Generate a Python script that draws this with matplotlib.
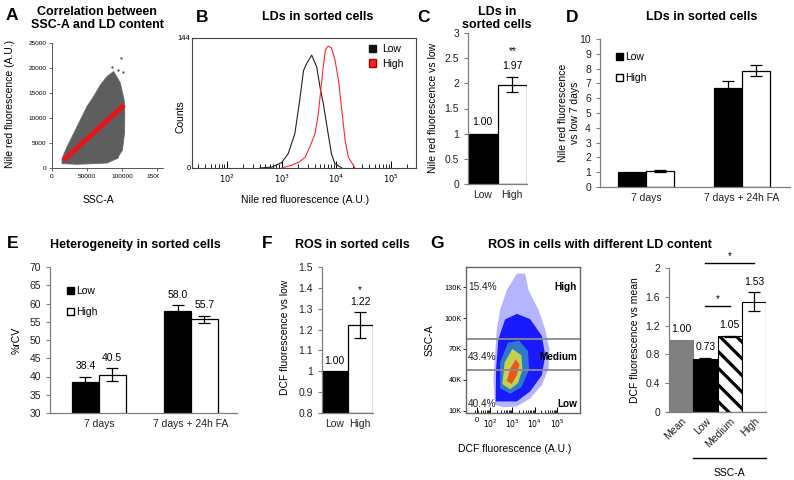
import matplotlib
matplotlib.use('Agg')
import matplotlib.pyplot as plt
import numpy as np
from matplotlib.patches import Patch, Rectangle

plt.rcParams['font.family'] = ['Liberation Sans', 'DejaVu Sans']
plt.rcParams['hatch.linewidth'] = 2.3
plt.rcParams['hatch.color'] = 'black'

# ---------------- data ----------------
# A: SSC-A vs Nile red (cloud envelope, sparse outliers, regression line)
a_cloud_ssc = [14300, 35700, 59500, 78600, 92900, 100500, 103500, 104000, 103000,
               97600, 88100, 78600, 69000, 59500, 50000, 40500, 31000, 21400, 14300]
a_cloud_nr = [870, 740, 870, 1000, 1880, 3550, 6900, 11000, 13600,
              17000, 19300, 18300, 16600, 14300, 12300, 9600, 6900, 4200, 1900]
a_out_ssc = [98600, 93800, 101400, 78600, 92900, 96500, 86000, 101000]
a_out_nr = [22000, 19600, 19300, 1500, 2200, 9000, 20200, 7500]
a_fit_ssc = [16700, 103000]
a_fit_nr = [1540, 12600]
a_xticks = [0, 50000, 100000, 150000]
a_yticks = [0, 5000, 10000, 15000, 20000, 25000]

# B: Nile red histograms of sorted cells
b_low_x = [400, 660, 1000, 1320, 1740, 2140, 2510, 2880, 3550, 4370, 5010, 5750, 7080, 8130, 9330, 12600]
b_low_counts = [0, 1, 6, 16, 38, 75, 108, 116, 125, 112, 90, 72, 38, 16, 5, 0]
b_high_x = [1000, 1510, 2140, 2690, 3310, 4070, 4680, 5750, 6310, 7080, 8130, 9440,
            10960, 12590, 14450, 16600, 21900]
b_high_counts = [0, 3, 7, 12, 24, 38, 60, 112, 131, 135, 133, 120, 97, 64, 31, 12, 0]
b_series = ['Low', 'High']

# C
c_cats = ['Low', 'High']
c_vals = [1.00, 1.97]
c_err = [0.0, 0.15]
c_sig = '**'

# D
d_cats = ['7 days', '7 days + 24h FA']
d_low = [1.0, 6.72]
d_low_err = [0.0, 0.47]
d_high = [1.09, 7.87]
d_high_err = [0.05, 0.35]

# E
e_cats = ['7 days', '7 days + 24h FA']
e_low = [38.4, 58.0]
e_low_err = [1.5, 1.5]
e_high = [40.5, 55.7]
e_high_err = [1.7, 1.0]

# F
f_cats = ['Low', 'High']
f_vals = [1.00, 1.22]
f_err = [0.0, 0.062]
f_sig = '*'

# G left: DCF (log10) vs SSC-A density regions
g_sparse_x = [2.22, 2.15, 2.22, 2.30, 2.45, 2.75, 3.20, 3.57, 3.72, 4.17, 4.47, 4.66, 4.62, 4.32, 3.79, 3.20, 2.60]
g_sparse_y = [16000, 41400, 63600, 89000, 108000, 127000, 143000, 143000, 127000, 108000,
              89000, 70000, 51000, 35000, 22000, 14400, 13500]
g_dense_x = [2.25, 2.27, 2.37, 2.67, 3.20, 3.79, 4.32, 4.47, 4.32, 3.79, 3.20]
g_dense_y = [19200, 51000, 79500, 98600, 104000, 99000, 82700, 63600, 44600, 28800, 19200]
g_green_x = [2.45, 2.45, 2.80, 3.30, 3.70, 3.75, 3.40, 2.90]
g_green_y = [32000, 57000, 76000, 78000, 68000, 50000, 33000, 26600]
g_yellow_x = [2.55, 2.65, 3.00, 3.40, 3.45, 3.25, 2.90]
g_yellow_y = [36000, 57000, 70000, 64000, 50000, 37000, 31000]
g_red_x = [2.75, 2.90, 3.15, 3.32, 3.20, 2.97]
g_red_y = [39000, 51000, 60000, 55000, 44600, 36000]
g_gates = [80000, 50000]
g_gate_names = ['High', 'Medium', 'Low']
g_gate_pct = ['15.4%', '43.4%', '40.4%']
g_gate_y = [130000, 62000, 17000]
g_yticks = [10000, 40000, 70000, 100000, 130000]
g_yticklabels = ['10K', '40K', '70K', '100K', '130K']
g_xticks = [1.42, 2, 3, 4, 5]
g_xticklabels = ['0', '$10^2$', '$10^3$', '$10^4$', '$10^5$']

# G right
gr_cats = ['Mean', 'Low', 'Medium', 'High']
gr_vals = [1.00, 0.73, 1.05, 1.53]
gr_err = [0.0, 0.025, 0.01, 0.13]
gr_labels = ['1.00', '0.73', '1.05', '1.53']

# ---------------- figure ----------------
W, H = 794, 480
fig = plt.figure(figsize=(W / 100, H / 100), dpi=100)


def box(l, t, r, b):
    return [l / W, 1 - b / H, (r - l) / W, (b - t) / H]


def ftext(x, y, s, **kw):
    fig.text(x / W, 1 - y / H, s, **kw)


AX = '#7f7f7f'
TF = 7.5


def bar_style(ax):
    for s in ['top', 'right']:
        ax.spines[s].set_visible(False)
    for s in ['left', 'bottom']:
        ax.spines[s].set_color(AX)
        ax.spines[s].set_linewidth(0.9)
    ax.tick_params(axis='y', colors=AX, labelcolor='#222222', labelsize=TF, length=3, width=0.8)
    ax.tick_params(axis='x', length=0, labelsize=TF, labelcolor='#222222', pad=4)


ebkw = dict(fmt='none', ecolor='black', elinewidth=0.9, capsize=4, capthick=0.9)

# ---- Panel letters and titles
for (x, y, s) in [(12, 16, 'A'), (202, 17, 'B'), (423, 17, 'C'), (572, 17, 'D'),
                  (13, 244, 'E'), (267, 244, 'F'), (437, 244, 'G')]:
    ftext(x, y, s, fontsize=12.5, fontweight='bold', ha='center', va='center')
tk = dict(fontsize=9, fontweight='bold', ha='center', va='center')
ftext(97, 18.5, 'Correlation between\nSSC-A and LD content', linespacing=1.15, **tk)
ftext(318, 17, 'LDs in sorted cells', **tk)
ftext(497, 18.5, 'LDs in\nsorted cells', linespacing=1.15, **tk)
ftext(702, 17, 'LDs in sorted cells', **tk)
ftext(135, 245, 'Heterogeneity in sorted cells', **tk)
ftext(352, 245, 'ROS in sorted cells', **tk)
ftext(600, 245, 'ROS in cells with different LD content', **tk)

# ---- Panel A
axA = fig.add_axes(box(52, 43, 163, 168))
axA.fill(a_cloud_ssc, a_cloud_nr, color='#5e5e5e', lw=0.6, ec='#6a6a6a')
axA.scatter(a_out_ssc, a_out_nr, s=3, color='#5e5e5e', lw=0)
axA.plot(a_fit_ssc, a_fit_nr, color='#e8141b', lw=3.5, solid_capstyle='butt')
axA.set_xlim(0, 158500)
axA.set_ylim(0, 25000)
axA.set_xticks(a_xticks)
axA.set_xticklabels([str(v) for v in a_xticks])
axA.set_yticks(a_yticks)
axA.set_yticklabels([str(v) for v in a_yticks])
for s in ['top', 'right']:
    axA.spines[s].set_visible(False)
for s in ['left', 'bottom']:
    axA.spines[s].set_color('#555555')
    axA.spines[s].set_linewidth(0.7)
axA.tick_params(labelsize=4.6, length=2, width=0.6, color='#555555', pad=2)
ftext(10, 104, 'Nile red fluorescence (A.U.)', rotation=90, fontsize=7.5, ha='center', va='center')
ftext(98, 200, 'SSC-A', fontsize=7.5, ha='center', va='center')
fig.add_artist(Rectangle((159 / W, 1 - 186 / H), 28 / W, 15 / H, transform=fig.transFigure,
                         facecolor='white', edgecolor='none', zorder=5))

# ---- Panel B
axB = fig.add_axes(box(192, 38, 416, 168))
axB.plot(b_low_x, b_low_counts, color='#222222', lw=0.8)
axB.plot(b_high_x, b_high_counts, color='#ff2a2a', lw=0.8)
axB.set_xscale('log')
axB.set_xlim(10 ** 1.36, 10 ** 5.457)
axB.set_ylim(0, 144)
axB.set_yticks([0, 144])
axB.set_yticklabels(['0', '144'])
axB.set_xticks([1e2, 1e3, 1e4, 1e5])
axB.set_xticklabels(['$10^2$', '$10^3$', '$10^4$', '$10^5$'])
for s in axB.spines.values():
    s.set_color('#444444')
    s.set_linewidth(0.8)
axB.tick_params(axis='x', which='major', direction='in', length=5, width=0.7, labelsize=6, pad=3)
axB.tick_params(axis='x', which='minor', direction='in', length=3, width=0.6)
axB.tick_params(axis='y', direction='in', length=2, labelsize=5.5, pad=1)
hB = [Patch(facecolor='#111111', edgecolor='#111111'), Patch(facecolor='#ff2020', edgecolor='#aa0000')]
axB.legend(hB, b_series, loc='upper left', bbox_to_anchor=((369 - 192) / 224, (168 - 44) / 130),
           frameon=False, fontsize=7.5, handlelength=0.7, handleheight=0.7,
           handletextpad=0.6, labelspacing=0.45, borderpad=0, borderaxespad=0)
ftext(181, 117, 'Counts', rotation=90, fontsize=7.5, ha='center', va='center')
ftext(305, 200, 'Nile red fluorescence (A.U.)', fontsize=7.5, ha='center', va='center')

# ---- Panel C
axC = fig.add_axes(box(468, 33, 527, 184))
xc = np.arange(len(c_cats))
axC.bar(xc, c_vals, width=1.0, color=['black', 'white'], edgecolor='black', linewidth=0.9)
axC.errorbar(xc[1:], c_vals[1:], yerr=c_err[1:], **ebkw)
for i, v in enumerate(c_vals):
    axC.text(xc[i], v + c_err[i] + 0.13, f'{v:.2f}', ha='center', va='bottom', fontsize=TF)
axC.text(xc[1], c_vals[1] + c_err[1] + 0.42, c_sig, ha='center', va='bottom', fontsize=7)
axC.set_xlim(-0.5, 1.5)
axC.set_ylim(0, 3)
axC.set_yticks([0, 0.5, 1, 1.5, 2, 2.5, 3])
axC.set_yticklabels(['0', '0.5', '1', '1.5', '2', '2.5', '3'])
axC.set_xticks(xc)
axC.set_xticklabels(c_cats)
bar_style(axC)
ftext(433, 108, 'Nile red fluorescence vs low', rotation=90, fontsize=TF, ha='center', va='center')

# ---- Panel D
axD = fig.add_axes(box(600, 39, 790, 187))
xd = np.arange(len(d_cats))
bw = 0.29
axD.bar(xd - bw / 2, d_low, width=bw, color='black', edgecolor='black', linewidth=0.9)
axD.bar(xd + bw / 2, d_high, width=bw, color='white', edgecolor='black', linewidth=0.9)
axD.errorbar(xd[1:] - bw / 2, d_low[1:], yerr=d_low_err[1:], **ebkw)
axD.errorbar(xd + bw / 2, d_high, yerr=d_high_err, **ebkw)
axD.set_xlim(-0.48, 1.5)
axD.set_ylim(0, 10)
axD.set_yticks(range(0, 11))
axD.set_xticks(xd)
axD.set_xticklabels(d_cats)
bar_style(axD)
hD = [Patch(facecolor='black', edgecolor='black'), Patch(facecolor='white', edgecolor='black')]
axD.legend(hD, ['Low', 'High'], loc='upper left', bbox_to_anchor=((616 - 600) / 190, (187 - 52) / 148),
           frameon=False, fontsize=TF, handlelength=0.7, handleheight=0.7,
           handletextpad=0.15, labelspacing=1.1, borderpad=0, borderaxespad=0)
ftext(569, 113, 'Nile red fluorescence\nvs low 7 days', rotation=90, fontsize=TF,
      ha='center', va='center', linespacing=1.3)

# ---- Panel E
axE = fig.add_axes(box(50, 267, 237, 413))
xe = np.arange(len(e_cats))
axE.bar(xe - bw / 2, e_low, width=bw, color='black', edgecolor='black', linewidth=0.9)
axE.bar(xe + bw / 2, e_high, width=bw, color='white', edgecolor='black', linewidth=0.9)
axE.errorbar(xe - bw / 2, e_low, yerr=e_low_err, **ebkw)
axE.errorbar(xe + bw / 2, e_high, yerr=e_high_err, **ebkw)
for i in range(len(e_cats)):
    axE.text(xe[i] - bw / 2, e_low[i] + e_low_err[i] + 1.5, f'{e_low[i]:.1f}', ha='center', va='bottom', fontsize=TF)
    axE.text(xe[i] + bw / 2, e_high[i] + e_high_err[i] + 1.5, f'{e_high[i]:.1f}', ha='center', va='bottom', fontsize=TF)
axE.set_xlim(-0.53, 1.5)
axE.set_ylim(30, 70)
axE.set_yticks(range(30, 71, 5))
axE.set_xticks(xe)
axE.set_xticklabels(e_cats)
bar_style(axE)
axE.legend(hD, ['Low', 'High'], loc='upper left', bbox_to_anchor=((67 - 50) / 187, (413 - 286) / 146),
           frameon=False, fontsize=TF, handlelength=0.7, handleheight=0.7,
           handletextpad=0.15, labelspacing=1.1, borderpad=0, borderaxespad=0)
ftext(17, 340, '%rCV', rotation=90, fontsize=TF, ha='center', va='center')

# ---- Panel F
axF = fig.add_axes(box(322, 267, 373, 413))
xf = np.arange(len(f_cats))
axF.bar(xf, np.array(f_vals) - 0.8, bottom=0.8, width=1.0, color=['black', 'white'],
        edgecolor='black', linewidth=0.9)
axF.errorbar(xf[1:], f_vals[1:], yerr=f_err[1:], **ebkw)
for i, v in enumerate(f_vals):
    axF.text(xf[i], v + f_err[i] + 0.025, f'{v:.2f}', ha='center', va='bottom', fontsize=TF)
axF.text(xf[1], f_vals[1] + f_err[1] + 0.085, f_sig, ha='center', va='bottom', fontsize=7)
axF.set_xlim(-0.5, 1.5)
axF.set_ylim(0.8, 1.5)
axF.set_yticks([0.8, 0.9, 1.0, 1.1, 1.2, 1.3, 1.4, 1.5])
axF.set_yticklabels(['0.8', '0.9', '1', '1.1', '1.2', '1.3', '1.4', '1.5'])
axF.set_xticks(xf)
axF.set_xticklabels(f_cats)
bar_style(axF)
ftext(285, 337, 'DCF fluorescence vs low', rotation=90, fontsize=TF, ha='center', va='center')

# ---- Panel G left (flow plot)
axG = fig.add_axes(box(466, 267, 580, 413))
axG.fill(g_sparse_x, g_sparse_y, color='#6c6cff', alpha=0.5, lw=0)
axG.fill(g_dense_x, g_dense_y, color='#1a1aff', lw=0)
axG.fill(g_green_x, g_green_y, color='#40c8a0', alpha=0.55, lw=0)
axG.fill(g_yellow_x, g_yellow_y, color='#e8e830', alpha=0.8, lw=0)
axG.fill(g_red_x, g_red_y, color='#f03a10', alpha=0.8, lw=0)
for g in g_gates:
    axG.axhline(g, color='#8a8a8a', lw=1.3)
for i in range(3):
    axG.text(1.0, g_gate_y[i], g_gate_pct[i], fontsize=7.2, ha='left', va='center', color='#222222')
    axG.text(5.9, g_gate_y[i], g_gate_names[i], fontsize=7.2, fontweight='bold', ha='right', va='center')
axG.set_xlim(0.92, 6.03)
axG.set_ylim(8000, 149400)
axG.set_yticks(g_yticks)
axG.set_yticklabels(g_yticklabels)
axG.set_xticks(g_xticks)
axG.set_xticklabels(g_xticklabels)
minor = [np.log10(k * 10.0 ** d) for d in range(1, 5) for k in range(2, 10)]
minor = [m for m in minor if 1.0 < m < 5.9]
axG.set_xticks(minor, minor=True)
for s in axG.spines.values():
    s.set_color('#666666')
    s.set_linewidth(1.0)
axG.tick_params(axis='x', which='major', direction='in', length=4, width=0.7, labelsize=5.5, pad=3)
axG.tick_params(axis='x', which='minor', direction='in', length=2.5, width=0.6)
axG.tick_params(axis='y', direction='out', length=2, width=0.6, labelsize=5.3, pad=1)
ftext(430, 340, 'SSC-A', rotation=90, fontsize=TF, ha='center', va='center')
ftext(515, 449, 'DCF fluorescence (A.U.)', fontsize=TF, ha='center', va='center')

# ---- Panel G right (bars)
axR = fig.add_axes(box(669, 268, 766, 412))
xr = np.arange(len(gr_cats))
axR.bar(xr[0], gr_vals[0], width=1.0, color='#808080', edgecolor='#808080', linewidth=0.8)
axR.bar(xr[1], gr_vals[1], width=1.0, color='black', edgecolor='black', linewidth=0.8)
axR.bar(xr[2], gr_vals[2], width=1.0, color='white', edgecolor='black', linewidth=0.8, hatch='\\\\')
axR.bar(xr[3], gr_vals[3], width=1.0, color='white', edgecolor='black', linewidth=0.8)
axR.errorbar(xr[1:], gr_vals[1:], yerr=gr_err[1:], **ebkw)
for i, v in enumerate(gr_vals):
    axR.text(xr[i], v + gr_err[i] + 0.08, gr_labels[i], ha='center', va='bottom', fontsize=TF)
axR.plot([1, 2], [1.47, 1.47], color='black', lw=1.0, clip_on=False)
axR.text(1.5, 1.50, '*', ha='center', va='bottom', fontsize=7)
axR.plot([1, 3], [2.07, 2.07], color='black', lw=1.0, clip_on=False)
axR.text(2.0, 2.10, '*', ha='center', va='bottom', fontsize=7)
axR.set_xlim(-0.5, 3.5)
axR.set_ylim(0, 2)
axR.set_yticks([0, 0.4, 0.8, 1.2, 1.6, 2.0])
axR.set_yticklabels(['0', '0.4', '0.8', '1.2', '1.6', '2'])
axR.set_xticks(xr)
axR.set_xticklabels(gr_cats, rotation=45, ha='right', va='top', rotation_mode='anchor')
bar_style(axR)
axR.tick_params(axis='x', pad=3)
tr = axR.get_xaxis_transform()
axR.plot([0.5, 3.5], [(412 - 458) / 144.0] * 2, color='black', lw=1.0, transform=tr, clip_on=False)
axR.text(2.0, (412 - 473) / 144.0, 'SSC-A', transform=tr, ha='center', va='center', fontsize=TF)
ftext(635, 340, 'DCF fluorescence vs mean', rotation=90, fontsize=TF, ha='center', va='center')

fig.savefig('out.png', dpi=100, facecolor='white')
